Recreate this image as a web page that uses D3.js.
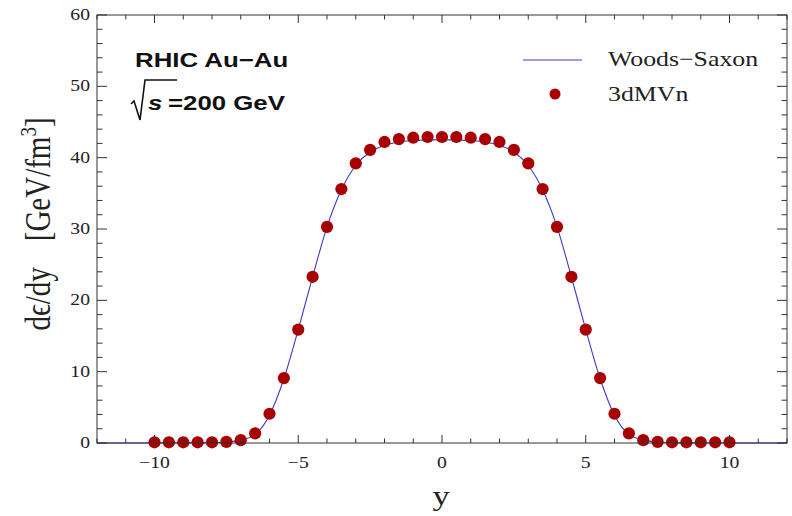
<!DOCTYPE html>
<html>
<head>
<meta charset="utf-8">
<script src="https://cdn.jsdelivr.net/npm/d3@7"></script>
<style>
  html, body { margin: 0; padding: 0; background: #fff; }
  svg { display: block; }
</style>
</head>
<body>
<svg id="chart" width="792" height="516"></svg>
<script>
// Rapidity grid of the 3dMVn points and their energy density dε/dy
const pointY = [-10, -9.5, -9, -8.5, -8, -7.5, -7, -6.5, -6, -5.5, -5, -4.5, -4, -3.5, -3, -2.5, -2, -1.5, -1, -0.5,
                0, 0.5, 1, 1.5, 2, 2.5, 3, 3.5, 4, 4.5, 5, 5.5, 6, 6.5, 7, 7.5, 8, 8.5, 9, 9.5, 10];
const pointE = [0.1, 0.1, 0.1, 0.1, 0.1, 0.15, 0.4, 1.35, 4.1, 9.1, 15.9, 23.3, 30.3, 35.6, 39.2, 41.1, 42.2, 42.6, 42.8, 42.9,
                42.9, 42.9, 42.8, 42.6, 42.2, 41.1, 39.2, 35.6, 30.3, 23.3, 15.9, 9.1, 4.1, 1.35, 0.4, 0.15, 0.1, 0.1, 0.1, 0.1, 0.1];

// Woods–Saxon curve samples
const curveY = [-12, -11.5, -11, -10.5, -10, -9.5, -9, -8.5, -8, -7.5, -7, -6.5, -6, -5.5, -5, -4.5, -4, -3.5, -3, -2.5, -2, -1.5, -1, -0.5,
                0, 0.5, 1, 1.5, 2, 2.5, 3, 3.5, 4, 4.5, 5, 5.5, 6, 6.5, 7, 7.5, 8, 8.5, 9, 9.5, 10, 10.5, 11, 11.5, 12];
const curveE = [0, 0, 0, 0, 0, 0, 0.01, 0.02, 0.05, 0.15, 0.4, 1.2, 3.9, 9.0, 15.9, 23.3, 30.3, 35.5, 38.9, 40.8, 41.7, 42.2, 42.4, 42.5,
                42.5, 42.5, 42.4, 42.2, 41.7, 40.8, 38.9, 35.5, 30.3, 23.3, 15.9, 9.0, 3.9, 1.2, 0.4, 0.15, 0.05, 0.02, 0.01, 0, 0, 0, 0, 0, 0];

const xMajor = [-10, -5, 0, 5, 10];
const xMajorLabels = ["−10", "−5", "0", "5", "10"];
const xMinor = [-12, -11, -9, -8, -7, -6, -4, -3, -2, -1, 1, 2, 3, 4, 6, 7, 8, 9, 11, 12];
const yMajor = [0, 10, 20, 30, 40, 50, 60];
const yMinor = [2, 4, 6, 8, 12, 14, 16, 18, 22, 24, 26, 28, 32, 34, 36, 38, 42, 44, 46, 48, 52, 54, 56, 58];

const seriesNames = ["Woods−Saxon", "3dMVn"];

const lineColor = "#3b3bcc";
const dotColor = "#a80000";
const frameColor = "#333";
const STRETCH = 1.23; // horizontal widening applied to every text glyph

const svg = d3.select("#chart");
const box = { left: 97, right: 787, top: 15, bottom: 443 };

const x = d3.scaleLinear().domain([-12, 12]).range([box.left, box.right]);
const y = d3.scaleLinear().domain([0, 60]).range([box.bottom, box.top]);

// text helper with horizontal widening
function label(px, py, str, opts = {}) {
  const t = svg.append("text")
    .attr("transform", `translate(${px},${py}) scale(${STRETCH},1)` + (opts.rotate ? ` rotate(${opts.rotate})` : ""))
    .attr("font-family", opts.family || "'Liberation Serif', 'Times New Roman', serif")
    .attr("font-size", opts.size || 16)
    .attr("font-weight", opts.weight || "normal")
    .attr("font-style", opts.style || "normal")
    .attr("text-anchor", opts.anchor || "start")
    .attr("fill", opts.fill || "#222");
  if (str !== null) t.text(str);
  return t;
}

// curve
const line = d3.line()
  .x((d, i) => x(curveY[i]))
  .y(d => y(d))
  .curve(d3.curveMonotoneX);

svg.append("path")
  .datum(curveE)
  .attr("d", line)
  .attr("fill", "none")
  .attr("stroke", lineColor)
  .attr("stroke-width", 1.1);

// points
svg.append("g").selectAll("circle")
  .data(pointE)
  .join("circle")
  .attr("cx", (d, i) => x(pointY[i]))
  .attr("cy", d => y(d))
  .attr("r", 6.1)
  .attr("fill", dotColor);

// frame and inward ticks
const axes = svg.append("g").attr("stroke", frameColor).attr("stroke-width", 1);
axes.append("rect")
  .attr("x", box.left).attr("y", box.top)
  .attr("width", box.right - box.left).attr("height", box.bottom - box.top)
  .attr("fill", "none");

const majLenX = 8, minLenX = 4.5, majLenY = 10, minLenY = 5.5;
xMajor.forEach(v => {
  axes.append("line").attr("x1", x(v)).attr("x2", x(v)).attr("y1", box.bottom).attr("y2", box.bottom - majLenX);
  axes.append("line").attr("x1", x(v)).attr("x2", x(v)).attr("y1", box.top).attr("y2", box.top + majLenX);
});
xMinor.forEach(v => {
  axes.append("line").attr("x1", x(v)).attr("x2", x(v)).attr("y1", box.bottom).attr("y2", box.bottom - minLenX);
  axes.append("line").attr("x1", x(v)).attr("x2", x(v)).attr("y1", box.top).attr("y2", box.top + minLenX);
});
yMajor.forEach(v => {
  axes.append("line").attr("x1", box.left).attr("x2", box.left + majLenY).attr("y1", y(v)).attr("y2", y(v));
  axes.append("line").attr("x1", box.right).attr("x2", box.right - majLenY).attr("y1", y(v)).attr("y2", y(v));
});
yMinor.forEach(v => {
  axes.append("line").attr("x1", box.left).attr("x2", box.left + minLenY).attr("y1", y(v)).attr("y2", y(v));
  axes.append("line").attr("x1", box.right).attr("x2", box.right - minLenY).attr("y1", y(v)).attr("y2", y(v));
});

// tick labels
xMajor.forEach((v, i) => label(x(v), 468, xMajorLabels[i], { anchor: "middle", size: 16 }));
yMajor.forEach(v => label(90, y(v) + 5, String(v), { anchor: "end", size: 16 }));

// axis titles
label(441, 505, "y", { anchor: "middle", size: 28 });
const yt = label(50, 224, null, { anchor: "middle", size: 29, rotate: -90 });
yt.append("tspan").text("dϵ/dy");
yt.append("tspan").attr("dx", 26).text("[GeV/fm");
yt.append("tspan").attr("dy", -11).attr("font-size", 19).text("3");
yt.append("tspan").attr("dy", 11).text("]");

// legend
svg.append("line")
  .attr("x1", 523).attr("x2", 582).attr("y1", 60).attr("y2", 60)
  .attr("stroke", lineColor).attr("stroke-width", 1.1);
svg.append("circle").attr("cx", 555).attr("cy", 94).attr("r", 5.5).attr("fill", dotColor);
label(608, 66, seriesNames[0], { size: 21 });
label(608, 101, seriesNames[1], { size: 21 });

// collision system annotation
const sans = "'Liberation Sans', Arial, sans-serif";
label(135, 67, "RHIC Au−Au", { family: sans, weight: "bold", size: 21, fill: "#111" });
svg.append("path")
  .attr("d", "M131,104 L134,101 L140,120 L145,80 L177,80")
  .attr("fill", "none").attr("stroke", "#111").attr("stroke-width", 1.6).attr("stroke-linejoin", "miter");
label(148, 110, "s", { family: sans, weight: "bold", style: "italic", size: 21, fill: "#111" });
label(168, 110, "=200 GeV", { family: sans, weight: "bold", size: 21, fill: "#111" });
</script>
</body>
</html>
